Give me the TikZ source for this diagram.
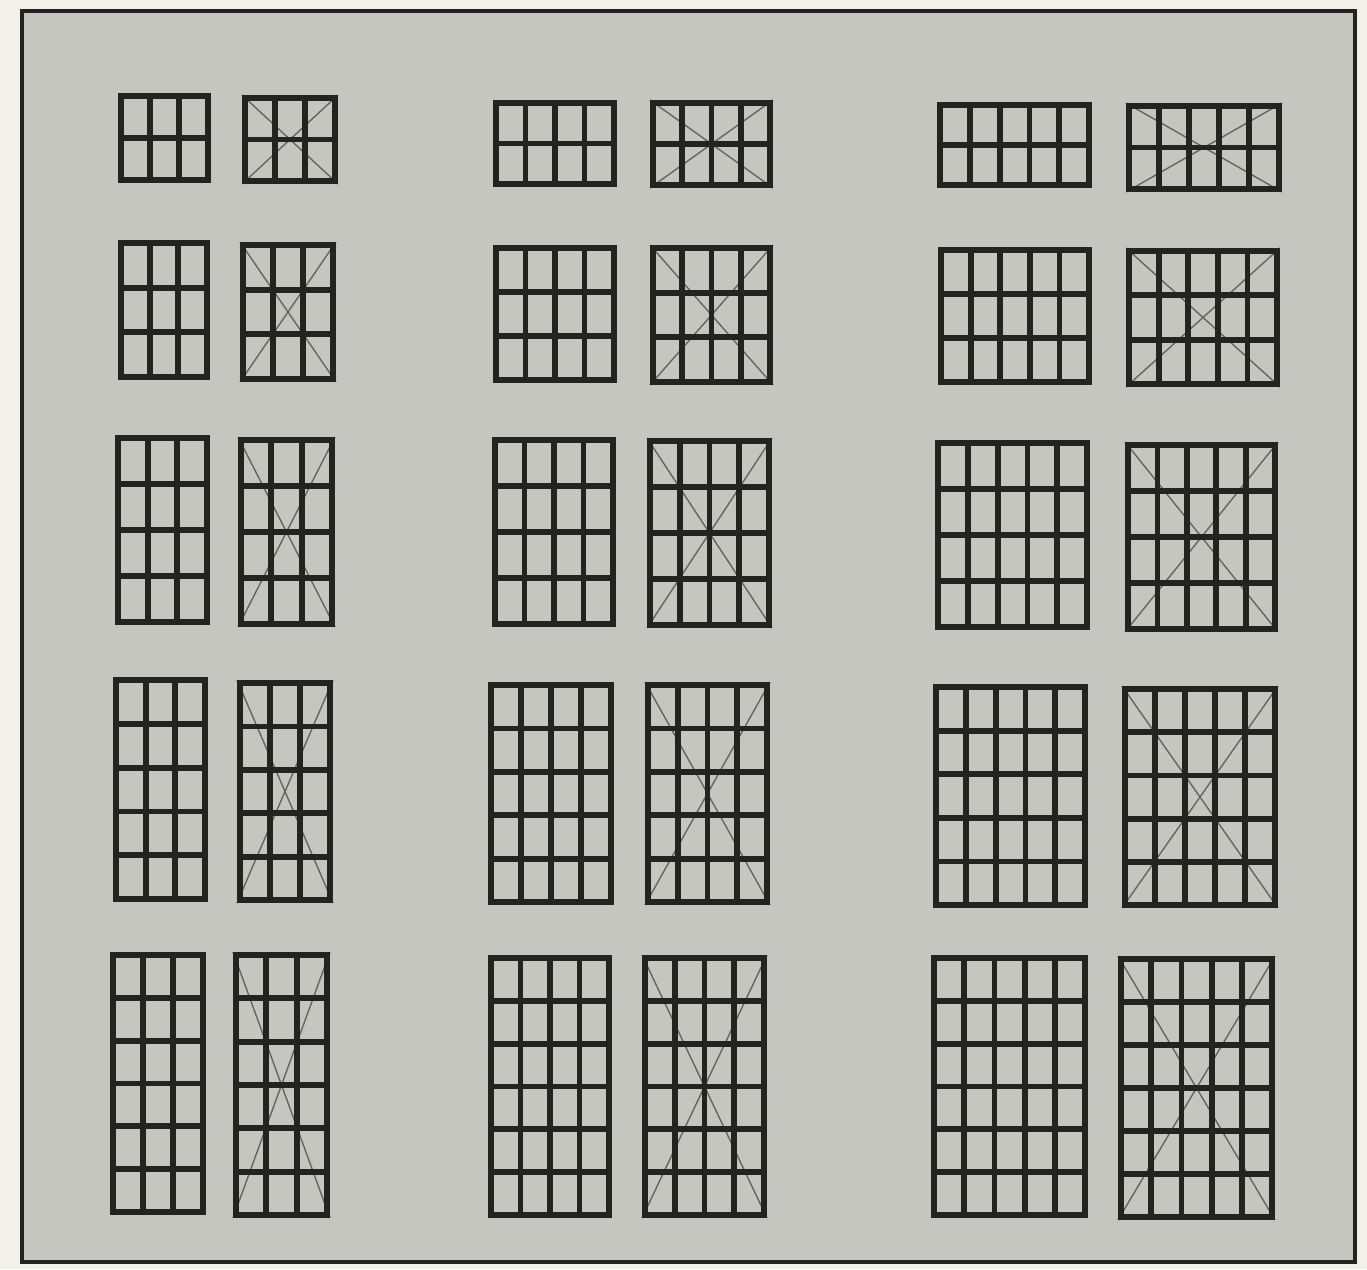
\documentclass[tikz,border=0pt]{standalone}
\definecolor{margin}{HTML}{F2F0E8}
\definecolor{paper}{HTML}{C6C6C0}
\definecolor{ink}{HTML}{232321}
\tikzset{
  gridline/.style={ink, line width=3.3pt},
  rayline/.style={ink!70, line width=0.8pt},
  frameline/.style={ink, line width=1.8pt}
}
\newcommand{\cellgrid}[6]{%
  \pgfmathsetmacro{\gxa}{#1+3}\pgfmathsetmacro{\gya}{#2+3}%
  \pgfmathsetmacro{\gxb}{#3-3}\pgfmathsetmacro{\gyb}{#4-3}%
  \pgfmathtruncatemacro{\gnc}{#5-1}\pgfmathtruncatemacro{\gnr}{#6-1}%
  \draw[gridline] (\gxa,\gya) rectangle (\gxb,\gyb);
  \foreach \k in {1,...,\gnc} {
    \pgfmathsetmacro{\gx}{\gxa+(\gxb-\gxa)*\k/#5}
    \draw[gridline] (\gx,\gya) -- (\gx,\gyb);
  }
  \foreach \k in {1,...,\gnr} {
    \pgfmathsetmacro{\gy}{\gya+(\gyb-\gya)*\k/#6}
    \draw[gridline] (\gxa,\gy) -- (\gxb,\gy);
  }
}
\begin{document}
\begin{tikzpicture}[x=0.02cm, y=-0.02cm]
  \useasboundingbox (0,0) rectangle (1367,1269);
  \fill[margin] (0,0) rectangle (1367,1269);
  \fill[paper] (22,11) rectangle (1355,1262);
  \draw[frameline] (22,11) rectangle (1355,1262);
  \foreach \xa/\ya/\xb/\yb/\nc/\nr in {
    118/93/211/183/3/2, 493/100/617/187/4/2, 937/102/1092/188/5/2,
    118/240/210/380/3/3, 493/245/617/383/4/3, 938/247/1092/385/5/3,
    115/435/210/625/3/4, 492/437/616/627/4/4, 935/440/1090/630/5/4,
    113/677/208/902/3/5, 488/682/614/905/4/5, 933/684/1088/908/5/5,
    110/952/206/1215/3/6, 488/955/612/1218/4/6, 931/955/1088/1218/5/6}
    \cellgrid{\xa}{\ya}{\xb}{\yb}{\nc}{\nr};
  \foreach \xa/\ya/\xb/\yb/\nc/\nr in {
    242/95/338/184/3/2, 650/100/773/188/4/2, 1126/103/1282/192/5/2,
    240/242/336/382/3/3, 650/245/773/385/4/3, 1126/248/1280/387/5/3,
    238/437/335/627/3/4, 647/438/772/628/4/4, 1125/442/1278/632/5/4,
    237/680/333/903/3/5, 645/682/770/905/4/5, 1122/686/1278/908/5/5,
    233/952/330/1218/3/6, 642/955/767/1218/4/6, 1118/956/1275/1220/5/6} {
    \coordinate (hub) at ({(\xa+\xb)/2},{(\ya+\yb)/2});
    \draw[rayline] (\xa,\ya) -- (hub) -- (\xb,\yb);
    \draw[rayline] (\xb,\ya) -- (hub) -- (\xa,\yb);
    \cellgrid{\xa}{\ya}{\xb}{\yb}{\nc}{\nr};
  }
\end{tikzpicture}
\end{document}
